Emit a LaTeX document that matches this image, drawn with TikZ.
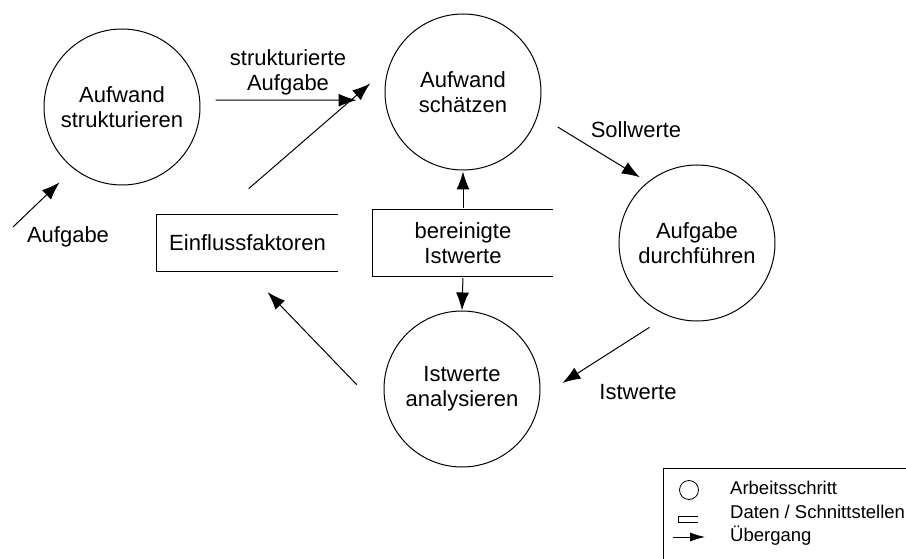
\documentclass[tikz,border=0pt]{standalone}
\usepackage{fontspec}
\setmainfont{Liberation Sans}
\usetikzlibrary{arrows.meta}
\newcommand{\mainsize}{\fontsize{22}{25}\selectfont}
\newcommand{\legsize}{\fontsize{18.5}{21}\selectfont}
\tikzset{>={Latex[length=18pt,width=13pt]}}
\tikzset{
  arbeit/.style = {circle, draw, line width=1pt, minimum size=156pt, inner sep=0pt, align=center, font=\mainsize},
  daten/.style = {minimum height=56pt, inner sep=0pt, align=center, font=\mainsize},
  beschr/.style = {inner sep=0pt, align=center, font=\mainsize},
  legtext/.style = {inner sep=0pt, anchor=west, font=\legsize},
  fluss/.style = {->, line width=1pt},
}

\begin{document}
\begin{tikzpicture}[x=1pt, y=-1pt]
\useasboundingbox (0,0) rectangle (906,559);

% Arbeitsschritte
\node[arbeit] (struk) at (122,107) {Aufwand\\strukturieren};
\node[arbeit] (schaetz) at (463,92) {Aufwand\\sch\"atzen};
\node[arbeit] (durch) at (697,243) {Aufgabe\\durchf\"uhren};
\node[arbeit] (analys) at (462,389) {Istwerte\\analysieren};

% Daten
\node[daten, minimum width=181pt] (einfl) at (247.5,243) {Einflussfaktoren};
\draw[line width=1pt] (einfl.north east) -- (einfl.north west) -- (einfl.south west) -- (einfl.south east);
\node[daten, minimum width=180pt, minimum height=66pt] (bereinigt) at (463,243) {bereinigte\\Istwerte};
\draw[line width=1pt] (bereinigt.north east) -- (bereinigt.north west) -- (bereinigt.south west) -- (bereinigt.south east);

% Uebergaenge
\coordinate (aufin) at (13,227);
\draw[fluss, shorten >=19.5pt] (aufin) -- (struk.232);
\node[beschr] (l-aufgabe) at (68,237) {Aufgabe};

\draw[fluss, shorten <=15.3pt, shorten >=28.4pt] (struk.5) -- (schaetz.186);
\node[beschr] (l-struk) at (288,72) {strukturierte\\Aufgabe};

\draw[fluss, shorten <=23pt, shorten >=9pt] (schaetz.343) -- (durch.129);
\node[beschr] (l-soll) at (636,130) {Sollwerte};

\draw[fluss, shorten <=21.5pt, shorten >=26.6pt] (durch.248) -- (analys.354);
\node[beschr] (l-ist) at (638,392) {Istwerte};

\draw[fluss, shorten <=46.9pt, shorten >=29pt] (analys.202) -- (einfl.south);
\draw[fluss, shorten <=40pt, shorten >=24pt] ([xshift=-29pt]einfl.north) -- (schaetz.162);

\draw[fluss, shorten <=2pt, shorten >=1pt] (bereinigt.north) -- (schaetz.south);
\draw[fluss, shorten <=2pt, shorten >=0pt] (bereinigt.south) -- (analys.north);

% Legende
\draw[line width=0.8pt] (906,468) -- (663,468) -- (663,559);
\node[circle, draw, line width=0.8pt, minimum size=19pt, inner sep=0pt] (leg-kreis) at (689,490) {};
\node[legtext] (leg-arb) at (730,488) {Arbeitsschritt};
\draw[line width=0.8pt] (698,516) -- (678,516) -- (678,522) -- (698,522);
\node[legtext] (leg-daten) at (730,512) {Daten / Schnittstellen};
\draw[->, line width=0.8pt, >={Latex[length=15pt,width=9pt]}] (673,537) -- (705,537);
\node[legtext] (leg-ueb) at (730,536) {\"Ubergang};

\end{tikzpicture}
\end{document}
